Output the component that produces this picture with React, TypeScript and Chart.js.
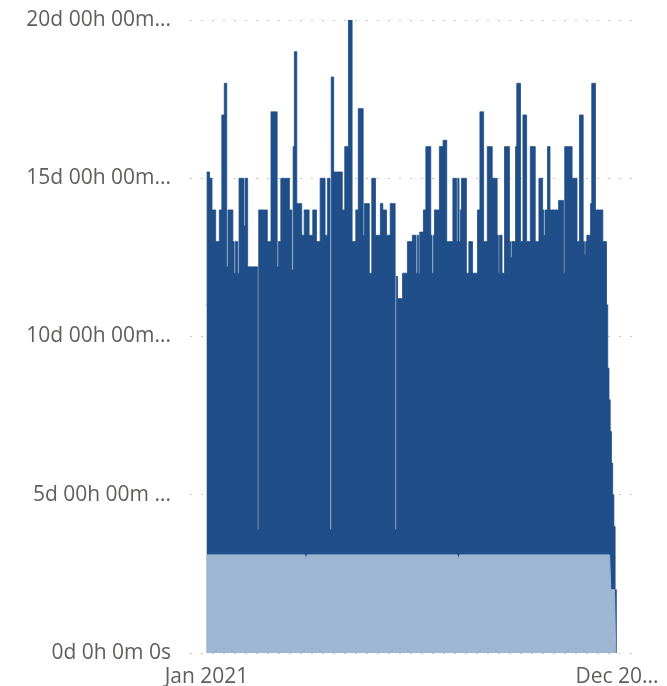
import React, { useEffect, useRef } from "react";
import { Chart, registerables } from "chart.js";

Chart.register(...registerables);

// Daily values (days since Jan 1 2021), in days of duration
const DARK_VALUES: number[] = [
  11, 15.2, 15.2, 15.0, 15.0, 14, 14, 14, 13, 13,
  13, 14, 14, 17, 17, 18, 18, 12.2, 14, 14,
  14, 14, 13, 12, 13, 13, 12, 15, 15, 15,
  15, 13.5, 15, 15, 12.2, 12.2, 12.2, 12.2, 12.2, 12.2,
  12.2, 12.2, 3.9, 14, 14, 14, 14, 14, 14, 14,
  13, 13, 13, 17.1, 17.1, 17.1, 17.1, 17.1, 12.2, 13,
  13, 15, 15, 15, 15, 15, 15, 15, 14, 14,
  12.1, 16, 19, 19, 14.2, 14.2, 14.2, 14.2, 13.2, 13.2,
  14, 14, 14, 14, 13.2, 13.2, 13.2, 14, 14, 14,
  13, 13, 13, 15, 15, 15, 15, 13.2, 13.2, 15,
  15, 3.9, 18.2, 18.2, 15.2, 15.2, 15.2, 15.2, 15.2, 15.2,
  15.2, 14, 14, 16, 16, 16, 20, 20, 20, 13,
  13, 13, 14, 14, 17.2, 17.2, 17.2, 17.2, 13.2, 14.2,
  14.2, 14.2, 14.2, 12, 12, 15, 15, 15, 13.2, 13.2,
  13.2, 13.2, 14.2, 14.2, 14, 14, 14, 13.2, 13.2, 13.2,
  14.2, 14.2, 14.2, 14.2, 3.9, 11.9, 11.2, 11.2, 11.2, 11.2,
  12, 12, 12, 12, 13, 13, 13, 13, 13.2, 13.2,
  13.2, 12, 13.2, 12, 13.3, 13.3, 13.3, 14, 14, 16,
  16, 16, 16, 13.2, 12, 13.2, 14, 14, 14, 14,
  16, 16, 16, 16.2, 16.2, 16.2, 13, 13, 13, 13,
  13, 15, 15, 15, 13, 15, 13, 14, 15, 15,
  15, 15, 12, 12, 13, 13, 13, 12, 12, 12,
  12, 14, 14, 17.1, 17.1, 17.1, 13, 13, 13, 16,
  16, 16, 16, 15, 15, 15, 15, 13.2, 12, 13.2,
  13.2, 12, 12, 16, 16, 16, 16, 13, 12.5, 13,
  13, 13, 16, 18, 18, 18, 13, 13, 17, 17,
  17, 13, 13, 13, 16, 16, 16, 16, 13, 13,
  13, 15, 15, 15, 14, 13.2, 14, 14, 16, 16,
  14, 14, 14, 14, 14, 14, 14, 14.3, 14.3, 14.3,
  14.3, 12, 16, 16, 16, 16, 16, 16, 15, 15,
  15, 15, 13, 13, 17, 17, 17, 13, 12.6, 13,
  13.2, 13.2, 13.2, 14.2, 18, 18, 18, 14, 14, 14,
  14, 14, 14, 13, 13, 13, 11, 9, 8, 7,
  6, 5, 4, 2, 0,
];

const LIGHT_DAYS: number[] = [0, 80, 81, 82, 204, 205, 206, 328, 329, 332, 333];
const LIGHT_VALUES: number[] = [3.1, 3.1, 2.95, 3.1, 3.1, 2.95, 3.1, 3.1, 2.0, 2.0, 0];

const X_TICK_DAYS: number[] = [0, 334];
const X_TICK_LABELS: string[] = ["Jan 2021", "Dec 20..."];

const Y_TICK_VALUES: number[] = [0, 5, 10, 15, 20];
const Y_TICK_LABELS: string[] = [
  "0d 0h 0m 0s",
  "5d 00h 00m ...",
  "10d 00h 00m...",
  "15d 00h 00m...",
  "20d 00h 00m...",
];

const DARK = "#1F4E89";
const LIGHT = "#9DB6D1";
const TEXT = "#605E5C";
const FONT = { family: "'Open Sans', sans-serif", size: 21 };

export default function App() {
  const ref = useRef<HTMLCanvasElement | null>(null);

  useEffect(() => {
    if (!ref.current) return;
    const chart = new Chart(ref.current, {
      type: "line",
      data: {
        datasets: [
          {
            label: "Light",
            data: LIGHT_DAYS.map((d, i) => ({ x: d, y: LIGHT_VALUES[i] })),
            borderColor: LIGHT,
            backgroundColor: LIGHT,
            borderWidth: 1,
            fill: "origin",
            pointRadius: 0,
            tension: 0,
          },
          {
            label: "Dark",
            data: DARK_VALUES.map((v, i) => ({ x: i, y: v })),
            borderColor: DARK,
            backgroundColor: DARK,
            borderWidth: 0.8,
            fill: "origin",
            pointRadius: 0,
            stepped: "middle",
          },
        ],
      },
      options: {
        responsive: false,
        animation: false,
        devicePixelRatio: 1,
        layout: { padding: { top: 20, right: 30, bottom: 0, left: 0 } },
        plugins: {
          legend: { display: false },
          tooltip: { enabled: false },
        },
        scales: {
          x: {
            type: "linear",
            min: -13.4,
            max: 350.3,
            grid: { display: false, drawTicks: false },
            border: { display: false },
            afterBuildTicks: (s: any) => {
              s.ticks = X_TICK_DAYS.map((v) => ({ value: v }));
            },
            afterFit: (s: any) => {
              s.height = 33;
              s.paddingLeft = 0;
              s.paddingRight = 0;
            },
            ticks: {
              autoSkip: false,
              maxRotation: 0,
              padding: 11,
              color: TEXT,
              font: FONT,
              callback: (value: any) => {
                const i = X_TICK_DAYS.indexOf(Number(value));
                return i >= 0 ? X_TICK_LABELS[i] : "";
              },
            },
          },
          y: {
            type: "linear",
            min: 0,
            max: 20,
            grid: { color: "#C8C8C8", lineWidth: 1, drawTicks: false },
            border: { display: false, dash: [2, 9] },
            afterBuildTicks: (s: any) => {
              s.ticks = Y_TICK_VALUES.map((v) => ({ value: v }));
            },
            afterFit: (s: any) => {
              s.width = 190;
              s.paddingTop = 0;
              s.paddingBottom = 0;
            },
            ticks: {
              padding: 19,
              color: TEXT,
              font: FONT,
              callback: (value: any) => {
                const i = Y_TICK_VALUES.indexOf(Number(value));
                return i >= 0 ? Y_TICK_LABELS[i] : "";
              },
            },
          },
        },
      },
    });
    return () => chart.destroy();
  }, []);

  return (
    <div style={{ position: "absolute", left: 0, top: 0, width: 667, height: 686, background: "#fff" }}>
      <canvas ref={ref} width={667} height={686} />
    </div>
  );
}
